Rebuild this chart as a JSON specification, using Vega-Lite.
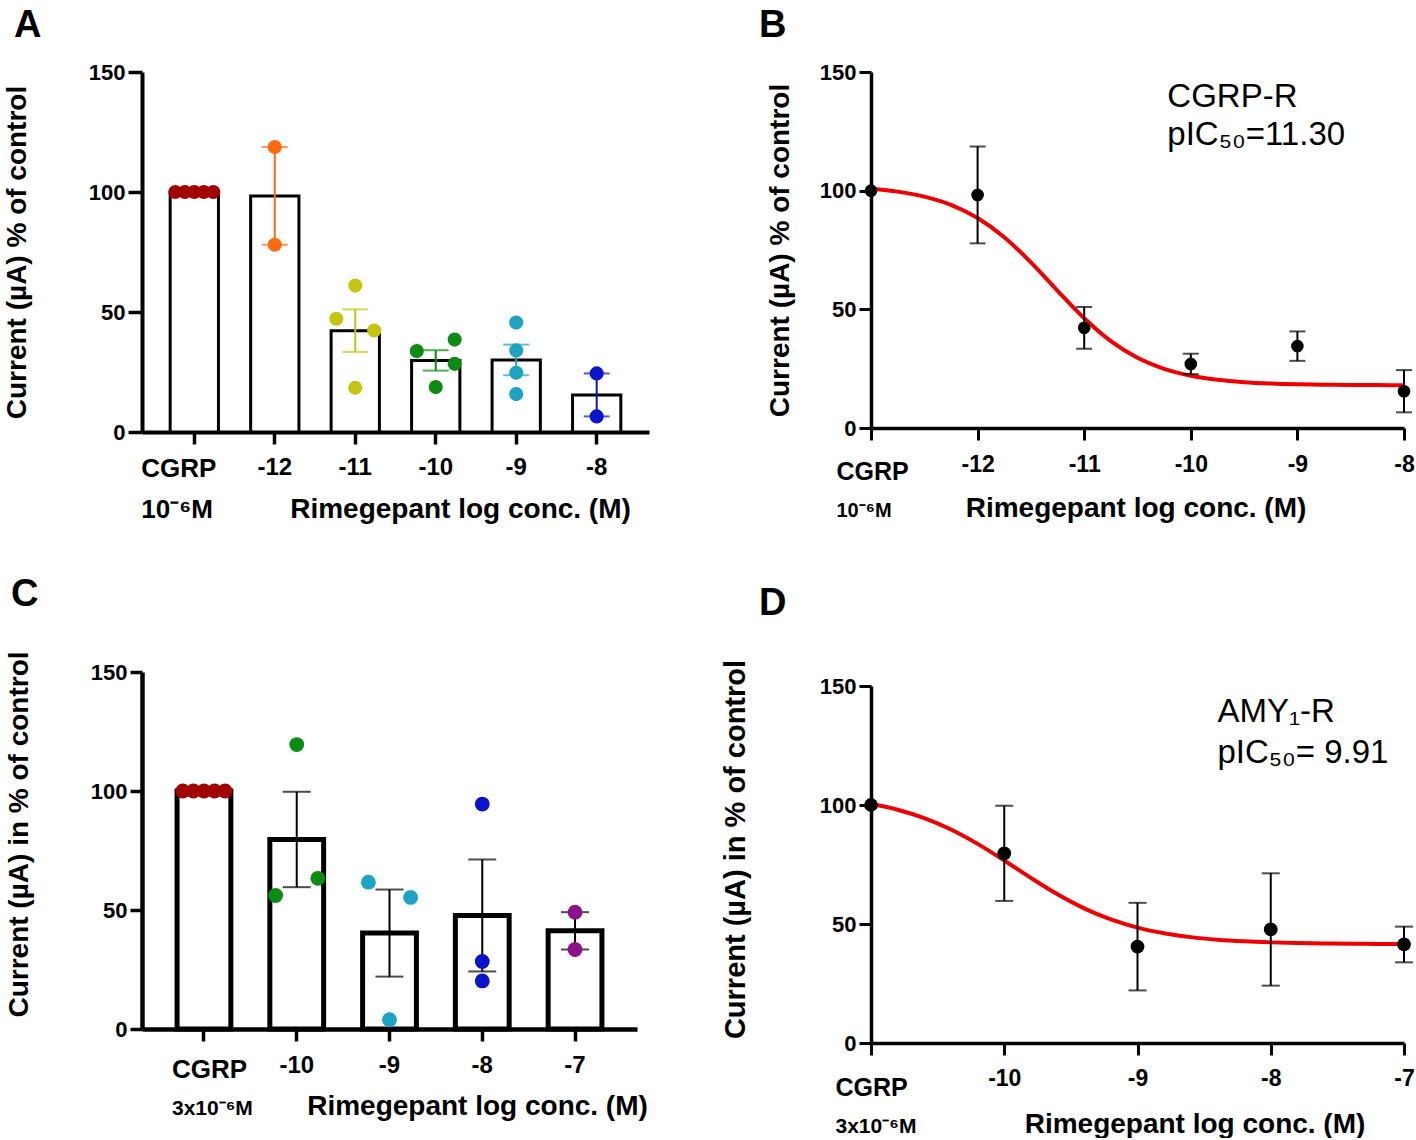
{
  "$schema": "https://vega.github.io/schema/vega-lite/v6.json",
  "padding": {"left": 3, "top": 7, "right": 0, "bottom": 0},
  "background": "white",
  "config": {
    "font": "Liberation Sans",
    "view": {"stroke": null},
    "axis": {"labelFont": "Liberation Sans", "titleFont": "Liberation Sans", "labelFontWeight": "bold", "titleFontWeight": "bold", "labelColor": "black", "titleColor": "black", "domainColor": "black", "tickColor": "black", "grid": false, "labelOverlap": false, "labelFlush": false, "labelBound": false},
    "title": {"font": "Liberation Sans", "fontWeight": "bold", "fontSize": 38, "color": "black"}
  },
  "datasets": {
    "A": [
      {"conc": "CGRP", "v": 100, "lane": -2}, {"conc": "CGRP", "v": 100, "lane": -1}, {"conc": "CGRP", "v": 100, "lane": 0}, {"conc": "CGRP", "v": 100, "lane": 1}, {"conc": "CGRP", "v": 100, "lane": 2},
      {"conc": "-12", "v": 118.7, "lane": 0}, {"conc": "-12", "v": 78.0, "lane": 0},
      {"conc": "-11", "v": 61.0, "lane": 0}, {"conc": "-11", "v": 47.2, "lane": -2}, {"conc": "-11", "v": 42.3, "lane": 2}, {"conc": "-11", "v": 18.4, "lane": 0},
      {"conc": "-10", "v": 33.7, "lane": -2}, {"conc": "-10", "v": 38.5, "lane": 2}, {"conc": "-10", "v": 28.4, "lane": 2}, {"conc": "-10", "v": 18.7, "lane": 0},
      {"conc": "-9", "v": 45.6, "lane": 0}, {"conc": "-9", "v": 34.0, "lane": 0}, {"conc": "-9", "v": 24.7, "lane": 0}, {"conc": "-9", "v": 15.8, "lane": 0},
      {"conc": "-8", "v": 24.4, "lane": 0}, {"conc": "-8", "v": 6.5, "lane": 0}
    ],
    "C": [
      {"conc": "CGRP", "v": 100, "lane": -2}, {"conc": "CGRP", "v": 100, "lane": -1}, {"conc": "CGRP", "v": 100, "lane": 0}, {"conc": "CGRP", "v": 100, "lane": 1}, {"conc": "CGRP", "v": 100, "lane": 2},
      {"conc": "-10", "v": 119.5, "lane": 0}, {"conc": "-10", "v": 63.3, "lane": 2}, {"conc": "-10", "v": 56.1, "lane": -2},
      {"conc": "-9", "v": 61.7, "lane": -2}, {"conc": "-9", "v": 55.3, "lane": 2}, {"conc": "-9", "v": 3.9, "lane": 0},
      {"conc": "-8", "v": 94.5, "lane": 0}, {"conc": "-8", "v": 28.4, "lane": 0}, {"conc": "-8", "v": 20.2, "lane": 0},
      {"conc": "-7", "v": 49.1, "lane": 0}, {"conc": "-7", "v": 33.4, "lane": 0}
    ],
    "Bm": [
      {"x": -13, "mean": 100, "sem": 0}, {"x": -12, "mean": 98.2, "sem": 20.4}, {"x": -11, "mean": 42.2, "sem": 8.8},
      {"x": -10, "mean": 27.0, "sem": 4.3}, {"x": -9, "mean": 34.5, "sem": 6.2}, {"x": -8, "mean": 15.5, "sem": 8.9}
    ],
    "Bc": [
      {"x": -13, "y": 100.85}, {"x": -12.75, "y": 99.6}, {"x": -12.5, "y": 97.48}, {"x": -12.25, "y": 93.98}, {"x": -12, "y": 88.45},
      {"x": -11.75, "y": 80.37}, {"x": -11.5, "y": 69.81}, {"x": -11.25, "y": 57.82}, {"x": -11, "y": 46.21}, {"x": -10.75, "y": 36.58},
      {"x": -10.5, "y": 29.56}, {"x": -10.25, "y": 24.92}, {"x": -10, "y": 22.03}, {"x": -9.75, "y": 20.32}, {"x": -9.5, "y": 19.32},
      {"x": -9.25, "y": 18.75}, {"x": -9, "y": 18.42}, {"x": -8.75, "y": 18.24}, {"x": -8.5, "y": 18.13}, {"x": -8.25, "y": 18.08}, {"x": -8, "y": 18.04}
    ],
    "Dm": [
      {"x": -11, "mean": 100, "sem": 0}, {"x": -10, "mean": 79.7, "sem": 20.0}, {"x": -9, "mean": 40.5, "sem": 18.4},
      {"x": -8, "mean": 47.7, "sem": 23.6}, {"x": -7, "mean": 41.4, "sem": 7.5}
    ],
    "Dc": [
      {"x": -11, "y": 100.5}, {"x": -10.8, "y": 98.02}, {"x": -10.6, "y": 94.48}, {"x": -10.4, "y": 89.7}, {"x": -10.2, "y": 83.67},
      {"x": -10, "y": 76.69}, {"x": -9.8, "y": 69.38}, {"x": -9.6, "y": 62.48}, {"x": -9.4, "y": 56.56}, {"x": -9.2, "y": 51.91},
      {"x": -9, "y": 48.49}, {"x": -8.8, "y": 46.1}, {"x": -8.6, "y": 44.48}, {"x": -8.4, "y": 43.41}, {"x": -8.2, "y": 42.72},
      {"x": -8, "y": 42.28}, {"x": -7.8, "y": 41.99}, {"x": -7.6, "y": 41.81}, {"x": -7.4, "y": 41.7}, {"x": -7.2, "y": 41.62}, {"x": -7, "y": 41.58}
    ]
  },
  "spacing": 72,
  "hconcat": [
    {
      "spacing": 52,
      "vconcat": [
        {
          "width": 507, "height": 360,
          "title": {"text": "A", "frame": "group", "anchor": "start", "dx": -128, "offset": 16},
          "data": {"name": "A"},
          "layer": [
            {
              "mark": {"type": "bar", "fill": "white", "stroke": "black", "strokeWidth": 3},
              "encoding": {
                "x": {"field": "conc", "type": "nominal",
                  "scale": {"domain": ["CGRP", "-12", "-11", "-10", "-9", "-8"], "paddingInner": 0.4, "paddingOuter": 0.35},
                  "axis": {"orient": "bottom", "title": null, "labelAngle": 0, "domainWidth": 4, "tickWidth": 3.5, "tickSize": 12, "labelBaseline": "alphabetic",
                    "labelPadding": {"condition": {"test": "datum.value === 'CGRP'", "value": 32}, "value": 30},
                    "labelFontSize": {"condition": {"test": "datum.value === 'CGRP'", "value": 26}, "value": 24},
                    "labelAlign": {"condition": {"test": "datum.value === 'CGRP'", "value": "left"}, "value": "center"},
                    "labelOffset": {"condition": {"test": "datum.value === 'CGRP'", "value": -53}, "value": 0}}},
                "y": {"aggregate": "mean", "field": "v", "type": "quantitative", "scale": {"domain": [0, 150], "nice": false},
                  "axis": {"values": [0, 50, 100, 150], "title": "Current (µA) % of control", "titleFontSize": 28, "titlePadding": 57, "labelFontSize": 22, "labelPadding": 3, "tickSize": 14, "tickWidth": 3.5, "domainWidth": 4}}
              }
            },
            {
              "transform": [{"filter": "datum.conc !== 'CGRP'"}],
              "mark": {"type": "errorbar", "extent": "stderr", "ticks": {"size": 26}, "thickness": 2},
              "encoding": {
                "x": {"field": "conc", "type": "nominal", "axis": null},
                "y": {"field": "v", "type": "quantitative", "title": "Current (µA) % of control"},
                "color": {"field": "conc", "type": "nominal", "legend": null,
                  "scale": {"domain": ["CGRP", "-12", "-11", "-10", "-9", "-8", "-7"], "range": ["#a00000", "#ff6a10", "#c4c412", "#0c8c12", "#1ea3c3", "#0a14c8", "#8c128c"]}}
              }
            },
            {
              "mark": {"type": "circle", "size": 200, "opacity": 1},
              "encoding": {
                "x": {"field": "conc", "type": "nominal",
                  "axis": {"orient": "bottom", "domain": false, "ticks": false, "tickSize": 0, "labelAngle": 0,
                    "labelExpr": "datum.value === 'CGRP' ? '10⁻⁶M' : ''", "labelAlign": "left", "labelOffset": -53, "labelFontSize": 26, "labelBaseline": "alphabetic", "labelPadding": 85,
                    "title": "Rimegepant log conc. (M)", "titleFontSize": 28, "titleX": 318, "titleY": 85, "titleAlign": "center", "titleBaseline": "alphabetic"}},
                "xOffset": {"field": "lane", "type": "ordinal", "scale": {"type": "point", "domain": [-2, -1, 0, 1, 2], "padding": 0.55}},
                "y": {"field": "v", "type": "quantitative", "title": "Current (µA) % of control"},
                "color": {"field": "conc", "type": "nominal", "legend": null}
              }
            }
          ],
          "resolve": {"axis": {"x": "independent"}, "scale": {"xOffset": "independent"}}
        },
        {
          "width": 495, "height": 357,
          "title": {"text": "C", "frame": "group", "anchor": "start", "dx": -131, "offset": 37},
          "data": {"name": "C"},
          "layer": [
            {
              "mark": {"type": "bar", "fill": "white", "stroke": "black", "strokeWidth": 5},
              "encoding": {
                "x": {"field": "conc", "type": "nominal",
                  "scale": {"domain": ["CGRP", "-10", "-9", "-8", "-7"], "paddingInner": 0.42, "paddingOuter": 0.378},
                  "axis": {"orient": "bottom", "title": null, "labelAngle": 0, "domainWidth": 4.5, "tickWidth": 3.5, "tickSize": 12, "labelBaseline": "alphabetic",
                    "labelPadding": {"condition": {"test": "datum.value === 'CGRP'", "value": 36}, "value": 31},
                    "labelFontSize": {"condition": {"test": "datum.value === 'CGRP'", "value": 26}, "value": 24},
                    "labelAlign": {"condition": {"test": "datum.value === 'CGRP'", "value": "left"}, "value": "center"},
                    "labelOffset": {"condition": {"test": "datum.value === 'CGRP'", "value": -32}, "value": 0}}},
                "y": {"aggregate": "mean", "field": "v", "type": "quantitative", "scale": {"domain": [0, 150], "nice": false},
                  "axis": {"values": [0, 50, 100, 150], "title": "Current (µA) in % of control", "titleFontSize": 28, "titlePadding": 57, "titleY": 162, "labelFontSize": 22, "labelPadding": 3, "tickSize": 12, "tickWidth": 3.5, "domainWidth": 4.5}}
              }
            },
            {
              "transform": [{"filter": "datum.conc !== 'CGRP'"}],
              "mark": {"type": "errorbar", "extent": "stderr", "ticks": {"size": 28}, "thickness": 2, "color": "black"},
              "encoding": {
                "x": {"field": "conc", "type": "nominal", "axis": null},
                "y": {"field": "v", "type": "quantitative", "title": "Current (µA) in % of control"}
              }
            },
            {
              "mark": {"type": "circle", "size": 220, "opacity": 1},
              "encoding": {
                "x": {"field": "conc", "type": "nominal",
                  "axis": {"orient": "bottom", "domain": false, "ticks": false, "tickSize": 0, "labelAngle": 0,
                    "labelExpr": "datum.value === 'CGRP' ? '3x10⁻⁶M' : ''", "labelAlign": "left", "labelOffset": -32, "labelFontSize": 21, "labelBaseline": "alphabetic", "labelPadding": 85,
                    "title": "Rimegepant log conc. (M)", "titleFontSize": 28, "titleX": 335, "titleY": 85, "titleAlign": "center", "titleBaseline": "alphabetic"}},
                "xOffset": {"field": "lane", "type": "ordinal", "scale": {"type": "point", "domain": [-2, -1, 0, 1, 2], "padding": 0.55}},
                "y": {"field": "v", "type": "quantitative", "title": "Current (µA) in % of control"},
                "color": {"field": "conc", "type": "nominal", "legend": null,
                  "scale": {"domain": ["CGRP", "-12", "-11", "-10", "-9", "-8", "-7"], "range": ["#a00000", "#ff6a10", "#c4c412", "#0c8c12", "#1ea3c3", "#0a14c8", "#8c128c"]}}
              }
            }
          ],
          "resolve": {"axis": {"x": "independent"}, "scale": {"xOffset": "independent"}}
        }
      ]
    },
    {
      "spacing": 63,
      "vconcat": [
        {
          "width": 533, "height": 356,
          "title": {"text": "B", "frame": "group", "anchor": "start", "dx": -112, "offset": 16},
          "layer": [
            {
              "data": {"name": "Bc"},
              "mark": {"type": "line", "color": "#ee0000", "strokeWidth": 4, "interpolate": "monotone"},
              "encoding": {
                "x": {"field": "x", "type": "quantitative", "scale": {"domain": [-13, -8], "nice": false, "zero": false},
                  "axis": {"orient": "bottom", "title": null, "values": [-13, -12, -11, -10, -9, -8], "labelExpr": "datum.value == -13 ? 'CGRP' : '' + datum.value",
                    "domainWidth": 3.5, "tickWidth": 3, "tickSize": 12, "labelBaseline": "alphabetic",
                    "labelPadding": {"condition": {"test": "datum.value == -13", "value": 39}, "value": 31},
                    "labelFontSize": {"condition": {"test": "datum.value == -13", "value": 25}, "value": 23},
                    "labelAlign": {"condition": {"test": "datum.value == -13", "value": "left"}, "value": "center"},
                    "labelOffset": {"condition": {"test": "datum.value == -13", "value": -35}, "value": 0}}},
                "y": {"field": "y", "type": "quantitative", "scale": {"domain": [0, 150], "nice": false},
                  "axis": {"values": [0, 50, 100, 150], "title": "Current (µA) % of control", "titleFontSize": 28, "titlePadding": 25, "labelFontSize": 22, "labelPadding": 3, "tickSize": 12, "tickWidth": 3, "domainWidth": 3.5}}
              }
            },
            {
              "data": {"name": "Bm"},
              "transform": [{"filter": "datum.sem > 0"}],
              "mark": {"type": "errorbar", "ticks": {"size": 16}, "thickness": 2, "color": "black"},
              "encoding": {
                "x": {"field": "x", "type": "quantitative", "axis": null},
                "y": {"field": "mean", "type": "quantitative", "title": "Current (µA) % of control"},
                "yError": {"field": "sem"}
              }
            },
            {
              "data": {"name": "Bm"},
              "mark": {"type": "circle", "size": 160, "opacity": 1, "color": "black"},
              "encoding": {
                "x": {"field": "x", "type": "quantitative",
                  "axis": {"orient": "bottom", "domain": false, "ticks": false, "tickSize": 0, "values": [-13],
                    "labelExpr": "'10⁻⁶M'", "labelAlign": "left", "labelOffset": -35, "labelFontSize": 20, "labelBaseline": "alphabetic", "labelPadding": 88,
                    "title": "Rimegepant log conc. (M)", "titleFontSize": 28, "titleX": 264.5, "titleY": 88, "titleAlign": "center", "titleBaseline": "alphabetic"}},
                "y": {"field": "mean", "type": "quantitative", "title": "Current (µA) % of control"}
              }
            },
            {
              "data": {"values": [{"note": "CGRP-R"}]},
              "mark": {"type": "text", "font": "Liberation Sans", "fontSize": 33, "align": "left", "baseline": "alphabetic", "lineHeight": 38, "color": "black"},
              "encoding": {
                "x": {"datum": -10.22, "type": "quantitative", "axis": null},
                "y": {"datum": 135.3, "type": "quantitative", "title": "Current (µA) % of control"},
                "text": {"value": ["CGRP-R", "pIC₅₀=11.30"]}
              }
            }
          ],
          "resolve": {"axis": {"x": "independent"}}
        },
        {
          "width": 533, "height": 357,
          "title": {"text": "D", "frame": "group", "anchor": "start", "dx": -112, "offset": 36},
          "layer": [
            {
              "data": {"name": "Dc"},
              "mark": {"type": "line", "color": "#ee0000", "strokeWidth": 4, "interpolate": "monotone"},
              "encoding": {
                "x": {"field": "x", "type": "quantitative", "scale": {"domain": [-11, -7], "nice": false, "zero": false},
                  "axis": {"orient": "bottom", "title": null, "values": [-11, -10, -9, -8, -7], "labelExpr": "datum.value == -11 ? 'CGRP' : '' + datum.value",
                    "domainWidth": 3.5, "tickWidth": 3, "tickSize": 12, "labelBaseline": "alphabetic",
                    "labelPadding": {"condition": {"test": "datum.value == -11", "value": 40}, "value": 30},
                    "labelFontSize": {"condition": {"test": "datum.value == -11", "value": 25}, "value": 23},
                    "labelAlign": {"condition": {"test": "datum.value == -11", "value": "left"}, "value": "center"},
                    "labelOffset": {"condition": {"test": "datum.value == -11", "value": -36}, "value": 0}}},
                "y": {"field": "y", "type": "quantitative", "scale": {"domain": [0, 150], "nice": false},
                  "axis": {"values": [0, 50, 100, 150], "title": "Current (µA) in % of control", "titleFontSize": 29, "titlePadding": 69, "titleY": 163, "labelFontSize": 22, "labelPadding": 3, "tickSize": 12, "tickWidth": 3, "domainWidth": 3.5}}
              }
            },
            {
              "data": {"name": "Dm"},
              "transform": [{"filter": "datum.sem > 0"}],
              "mark": {"type": "errorbar", "ticks": {"size": 18}, "thickness": 2, "color": "black"},
              "encoding": {
                "x": {"field": "x", "type": "quantitative", "axis": null},
                "y": {"field": "mean", "type": "quantitative", "title": "Current (µA) in % of control"},
                "yError": {"field": "sem"}
              }
            },
            {
              "data": {"name": "Dm"},
              "mark": {"type": "circle", "size": 190, "opacity": 1, "color": "black"},
              "encoding": {
                "x": {"field": "x", "type": "quantitative",
                  "axis": {"orient": "bottom", "domain": false, "ticks": false, "tickSize": 0, "values": [-11],
                    "labelExpr": "'3x10⁻⁶M'", "labelAlign": "left", "labelOffset": -36, "labelFontSize": 21, "labelBaseline": "alphabetic", "labelPadding": 89,
                    "title": "Rimegepant log conc. (M)", "titleFontSize": 28, "titleX": 323.5, "titleY": 89, "titleAlign": "center", "titleBaseline": "alphabetic"}},
                "y": {"field": "mean", "type": "quantitative", "title": "Current (µA) in % of control"}
              }
            },
            {
              "data": {"values": [{"note": "AMY1-R"}]},
              "mark": {"type": "text", "font": "Liberation Sans", "fontSize": 33, "align": "left", "baseline": "alphabetic", "lineHeight": 41, "color": "black"},
              "encoding": {
                "x": {"datum": -8.4, "type": "quantitative", "axis": null},
                "y": {"datum": 134.9, "type": "quantitative", "title": "Current (µA) in % of control"},
                "text": {"value": ["AMY₁-R", "pIC₅₀= 9.91"]}
              }
            }
          ],
          "resolve": {"axis": {"x": "independent"}}
        }
      ]
    }
  ]
}
